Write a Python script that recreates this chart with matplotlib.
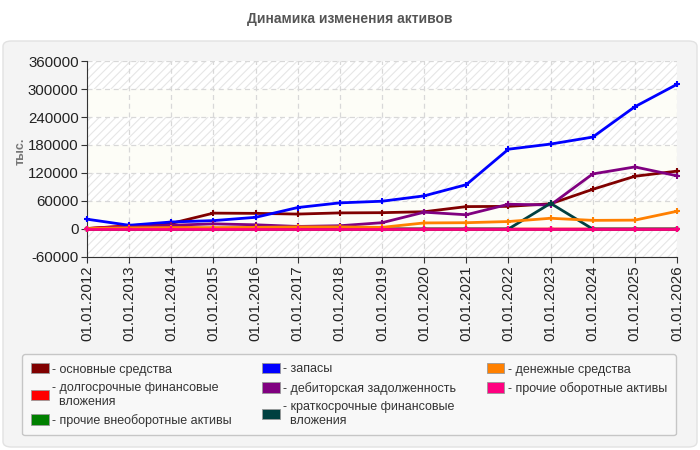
import numpy as np
import matplotlib
matplotlib.use('Agg')
import matplotlib.pyplot as plt
from matplotlib.patches import FancyBboxPatch, Patch

plt.rcParams['font.family'] = ['Liberation Sans', 'DejaVu Sans']
plt.rcParams['hatch.color'] = '#e4e4e4'
plt.rcParams['hatch.linewidth'] = 0.8

years = ['01.01.2012', '01.01.2013', '01.01.2014', '01.01.2015', '01.01.2016',
         '01.01.2017', '01.01.2018', '01.01.2019', '01.01.2020', '01.01.2021',
         '01.01.2022', '01.01.2023', '01.01.2024', '01.01.2025', '01.01.2026']

# тыс. руб.
osnovnye = [1000, 7000, 12000, 34000, 33500, 32000, 34500, 35000, 37000, 48000, 48500, 54000, 85000, 113000, 124000]
dolgosroch = [1000, 6000, 5000, 0, 0, 0, 0, 0, 0, 0, 0, 0, 0, 0, 0]
prochie_vneob = [0, 0, 0, 0, 0, 0, 0, 0, 0, 0, 0, 0, 0, 0, 0]
zapasy = [21000, 8000, 15000, 18000, 25000, 46000, 56000, 59500, 71000, 95000, 171000, 182000, 197000, 262000, 310000]
debitor = [1000, 4000, 8000, 11000, 9000, 5500, 7000, 13500, 36000, 30500, 53000, 51500, 118000, 133000, 114000]
kratkosroch = [0, 0, 0, 0, 0, 0, 0, 0, 0, 0, 0, 55000, 0, 0, 0]
denezhnye = [1000, 2500, 3000, 3000, 3500, 4500, 4500, 3500, 13000, 13500, 16000, 23000, 18500, 19000, 38000]
prochie_ob = [500, 500, 500, 500, 500, 500, 500, 500, 500, 500, 500, 500, 500, 500, 500]

series = [
    ('- основные средства', osnovnye, '#800000'),
    ('- долгосрочные финансовые\n  вложения', dolgosroch, '#ff0000'),
    ('- прочие внеоборотные активы', prochie_vneob, '#008000'),
    ('- запасы', zapasy, '#0000ff'),
    ('- дебиторская задолженность', debitor, '#800080'),
    ('- краткосрочные финансовые\n  вложения', kratkosroch, '#004040'),
    ('- денежные средства', denezhnye, '#ff8000'),
    ('- прочие оборотные активы', prochie_ob, '#ff0080'),
]

fig = plt.figure(figsize=(7, 4.5), dpi=100)
fig.patch.set_facecolor('white')

# outer grey panel
panel = FancyBboxPatch((3 / 700, 3 / 450), 694 / 700, 406 / 450,
                       boxstyle='round,pad=0,rounding_size=0.012',
                       transform=fig.transFigure, facecolor='#f4f4f4',
                       edgecolor='#e2e2e2', linewidth=1, zorder=-5)
fig.patches.append(panel)

fig.text(0.5, 1 - 19 / 450, 'Динамика изменения активов', ha='center', va='center',
         fontsize=10, fontweight='bold', color='#555555')

ax = fig.add_axes([87 / 700, 1 - 257 / 450, 590 / 700, 196 / 450])
ax.set_facecolor('#fdfdf7')
x = np.arange(len(years))
ax.set_xlim(0, len(years) - 1)
ax.set_ylim(-60000, 360000)

# alternating bands
for lo in range(-60000, 360000, 120000):
    ax.axhspan(lo, lo + 60000, facecolor='white', hatch='////', edgecolor='#e6e6e6',
               linewidth=0, zorder=0)

ax.set_yticks(np.arange(-60000, 360001, 60000))
ax.set_yticklabels([str(v) for v in range(-60000, 360001, 60000)], fontsize=10.8, color='#222222')
ax.set_xticks(x)
ax.set_xticklabels(years, rotation=90, fontsize=10.8, color='#222222')
ax.grid(True, color='#d8d8d8', linestyle=(0, (4, 3)), linewidth=0.9)
ax.set_axisbelow(True)

for sp in ['top', 'right']:
    ax.spines[sp].set_visible(False)
for sp in ['left', 'bottom']:
    ax.spines[sp].set_color('#333333')
ax.tick_params(length=4, color='#333333', pad=2)

ax.set_ylabel('тыс.', fontsize=9, fontweight='bold', color='#777777')
ax.yaxis.set_label_coords(-0.103, 0.54)

for label, vals, col in series:
    ax.plot(x, vals, color=col, linewidth=2, marker='+', markersize=5,
            markeredgewidth=1.5, clip_on=False, zorder=3)

handles = [Patch(facecolor=c, edgecolor='#999999', linewidth=0.6, label=l) for l, v, c in series]
leg = fig.legend(handles=handles, ncol=3, loc='upper left',
                 bbox_to_anchor=(16 / 700, 1 - 432 / 450, 666 / 700, 84 / 450),
                 mode='expand', frameon=True, fontsize=9, handlelength=1.4,
                 handleheight=0.9, handletextpad=0.3, labelspacing=0.5,
                 columnspacing=1.0, borderpad=0.7, fancybox=True)
leg.get_frame().set_facecolor('#fafafa')
leg.get_frame().set_edgecolor('#bbbbbb')
for t in leg.get_texts():
    t.set_color('#333333')

fig.savefig('out.png', dpi=100)
